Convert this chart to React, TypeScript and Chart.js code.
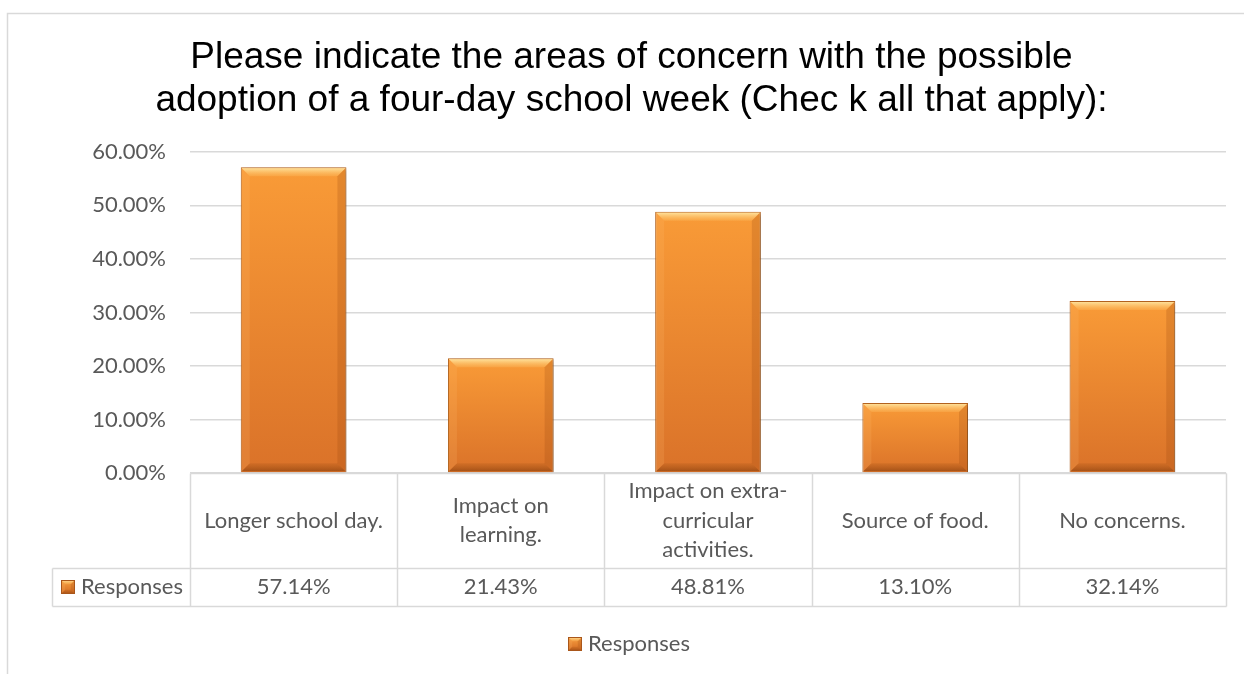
import { useEffect, useRef } from "react";
import { Chart, registerables } from "chart.js";

Chart.register(...registerables);

// ---------- data ----------
const titleLines: string[] = [
  "Please indicate the areas of concern with the possible",
  "adoption of a four-day school week (Chec k all that apply):",
];
const categories: string[][] = [
  ["Longer school day."],
  ["Impact on", "learning."],
  ["Impact on extra-", "curricular", "activities."],
  ["Source of food."],
  ["No concerns."],
];
const seriesName = "Responses";
const responses: number[] = [57.14, 21.43, 48.81, 13.1, 32.14];
const yMin = 0;
const yMax = 60;
const yStep = 10;

// ---------- styling ----------
const FONT_BODY = "Lato";
const FONT_TITLE = "'Liberation Sans', Arial, sans-serif";
const TEXT_GRAY = "#595959";
const GRID = "#d9d9d9";
const HEADER_H = 95;
const ROW_H = 38;
const LEFT_CELL_X = 52;
const BODY_SIZE = 22;

function makeMarker(size: number): HTMLCanvasElement {
  const c = document.createElement("canvas");
  c.width = size;
  c.height = size;
  const g = c.getContext("2d")!;
  const grad = g.createLinearGradient(0, 0, 0, size);
  grad.addColorStop(0, "#F9A040");
  grad.addColorStop(1, "#D26A22");
  g.fillStyle = grad;
  g.fillRect(0, 0, size, size);
  drawBevel(g, 0, 0, size, size, Math.max(2, size * 0.3));
  g.strokeStyle = "#A9561A";
  g.lineWidth = 1;
  g.strokeRect(0.5, 0.5, size - 1, size - 1);
  return c;
}

function drawBevel(
  ctx: CanvasRenderingContext2D,
  l: number,
  t: number,
  r: number,
  b: number,
  s: number
) {
  const h = b - t;
  const w = r - l;
  const bv = Math.min(s, h / 2, w / 2);
  const poly = (pts: number[][], fill: string | CanvasGradient) => {
    ctx.beginPath();
    ctx.moveTo(pts[0][0], pts[0][1]);
    for (let i = 1; i < pts.length; i++) ctx.lineTo(pts[i][0], pts[i][1]);
    ctx.closePath();
    ctx.fillStyle = fill;
    ctx.fill();
  };
  const tg = ctx.createLinearGradient(0, t, 0, t + bv);
  tg.addColorStop(0, "rgba(255,236,170,0.85)");
  tg.addColorStop(1, "rgba(255,200,110,0.25)");
  poly([[l, t], [r, t], [r - bv, t + bv], [l + bv, t + bv]], tg);
  poly([[l, t], [l + bv, t + bv], [l + bv, b - bv], [l, b]], "rgba(255,190,110,0.18)");
  poly([[r, t], [r - bv, t + bv], [r - bv, b - bv], [r, b]], "rgba(150,70,15,0.22)");
  const bg = ctx.createLinearGradient(0, b - bv, 0, b);
  bg.addColorStop(0, "rgba(160,80,20,0.2)");
  bg.addColorStop(1, "rgba(120,55,10,0.55)");
  poly([[l, b], [r, b], [r - bv, b - bv], [l + bv, b - bv]], bg);
}

const px = (v: number) => Math.round(v) + 0.5;

const framePlugin = {
  id: "frame",
  beforeDraw(chart: any) {
    const { ctx, width, height } = chart;
    ctx.save();
    ctx.fillStyle = "#ffffff";
    ctx.fillRect(0, 0, width, height);
    ctx.strokeStyle = GRID;
    ctx.lineWidth = 1.5;
    ctx.strokeRect(7.5, 13.5, width + 20, height + 20);
    ctx.restore();
  },
};

const barShadowPlugin = {
  id: "barShadow",
  beforeDatasetsDraw(chart: any) {
    const ctx = chart.ctx;
    ctx.save();
    ctx.shadowColor = "rgba(0,0,0,0.28)";
    ctx.shadowBlur = 4;
    ctx.shadowOffsetX = 2;
    ctx.shadowOffsetY = 2;
  },
  afterDatasetsDraw(chart: any) {
    const ctx = chart.ctx;
    ctx.restore();
    const meta = chart.getDatasetMeta(0);
    meta.data.forEach((el: any) => {
      const { x, y, base, width } = el.getProps(["x", "y", "base", "width"], true);
      const l = x - width / 2;
      const r = x + width / 2;
      ctx.save();
      drawBevel(ctx, l + 1, y + 1, r - 1, base - 1, 8);
      ctx.restore();
    });
  },
};

const tablePlugin = {
  id: "dataTable",
  afterDraw(chart: any) {
    const { ctx, chartArea } = chart;
    const xs = chart.scales.x;
    const n = categories.length;
    const cellW = (chartArea.right - chartArea.left) / n;
    const top = chartArea.bottom;
    const headerBottom = top + HEADER_H;
    const tableBottom = headerBottom + ROW_H;
    ctx.save();
    ctx.strokeStyle = GRID;
    ctx.lineWidth = 1.5;
    const line = (x1: number, y1: number, x2: number, y2: number) => {
      ctx.beginPath();
      ctx.moveTo(px(x1), px(y1));
      ctx.lineTo(px(x2), px(y2));
      ctx.stroke();
    };
    line(chartArea.left, top, chartArea.right, top);
    line(LEFT_CELL_X, headerBottom, chartArea.right, headerBottom);
    line(LEFT_CELL_X, tableBottom, chartArea.right, tableBottom);
    line(LEFT_CELL_X, headerBottom, LEFT_CELL_X, tableBottom);
    for (let i = 0; i <= n; i++) {
      const bx = i < n ? xs.getPixelForValue(i) - cellW / 2 : xs.getPixelForValue(n - 1) + cellW / 2;
      line(bx, top, bx, tableBottom);
    }
    ctx.fillStyle = TEXT_GRAY;
    ctx.font = `${BODY_SIZE}px ${FONT_BODY}`;
    ctx.textAlign = "center";
    ctx.textBaseline = "middle";
    const lh = 29.5;
    const headerMid = (top + headerBottom) / 2;
    const rowMid = (headerBottom + tableBottom) / 2;
    categories.forEach((lines, i) => {
      const cx = xs.getPixelForValue(i);
      const y0 = headerMid - ((lines.length - 1) * lh) / 2;
      lines.forEach((t, k) => ctx.fillText(t, cx, y0 + k * lh));
      ctx.fillText(responses[i].toFixed(2) + "%", cx, rowMid);
    });
    const m = makeMarker(14);
    ctx.drawImage(m, 61, Math.round(rowMid - 7));
    ctx.textAlign = "left";
    ctx.fillText(seriesName, 81, rowMid);
    ctx.restore();
  },
};

export default function App() {
  const ref = useRef<HTMLCanvasElement | null>(null);
  useEffect(() => {
    if (!ref.current) return;
    const marker = makeMarker(14);
    const chart = new Chart(ref.current, {
      type: "bar",
      data: {
        labels: categories,
        datasets: [
          {
            label: seriesName,
            data: responses,
            backgroundColor: (c: any) => {
              const ch = c.chart;
              const ys = ch.scales?.y;
              if (!ys || c.type !== "data") return "#EE8A2E";
              const v = responses[c.dataIndex];
              const t = ys.getPixelForValue(v);
              const b = ys.getPixelForValue(0);
              if (!isFinite(t) || !isFinite(b) || t === b) return "#EE8A2E";
              const g = ch.ctx.createLinearGradient(0, t, 0, b);
              g.addColorStop(0, "#F99B37");
              g.addColorStop(1, "#DA7229");
              return g;
            },
            borderColor: "#B8651F",
            borderWidth: 1,
            barPercentage: 1,
            categoryPercentage: 0.51,
            pointStyle: marker as any,
          },
        ],
      },
      options: {
        responsive: false,
        devicePixelRatio: 1,
        animation: false,
        layout: { padding: { left: 37, right: 18, top: 0, bottom: 9 } },
        scales: {
          x: {
            grid: { display: false },
            border: { display: false },
            ticks: { display: false },
            afterFit: (s: any) => {
              s.height = 150;
            },
          },
          y: {
            min: yMin,
            max: yMax,
            border: { display: false },
            grid: { color: GRID, lineWidth: 1.5, drawTicks: false },
            ticks: {
              stepSize: yStep,
              padding: 24,
              color: TEXT_GRAY,
              font: { family: FONT_BODY, size: BODY_SIZE },
              callback: (v: any) => Number(v).toFixed(2) + "%",
            },
            afterFit: (s: any) => {
              s.width = 153;
            },
          },
        },
        plugins: {
          title: {
            display: true,
            text: titleLines,
            color: "#000000",
            font: { family: FONT_TITLE, size: 37, weight: "normal", lineHeight: 1.16 },
            padding: { top: 36, bottom: 30 },
          },
          legend: {
            display: true,
            position: "bottom",
            labels: {
              usePointStyle: true,
              pointStyleWidth: 4,
              padding: 10,
              color: TEXT_GRAY,
              font: { family: FONT_BODY, size: BODY_SIZE },
            },
          },
          tooltip: { enabled: false },
        },
      } as any,
      plugins: [framePlugin, barShadowPlugin, tablePlugin],
    });
    return () => chart.destroy();
  }, []);
  return (
    <div style={{ position: "fixed", left: 0, top: 0, width: 1244, height: 674 }}>
      <canvas ref={ref} width={1244} height={674} />
    </div>
  );
}
